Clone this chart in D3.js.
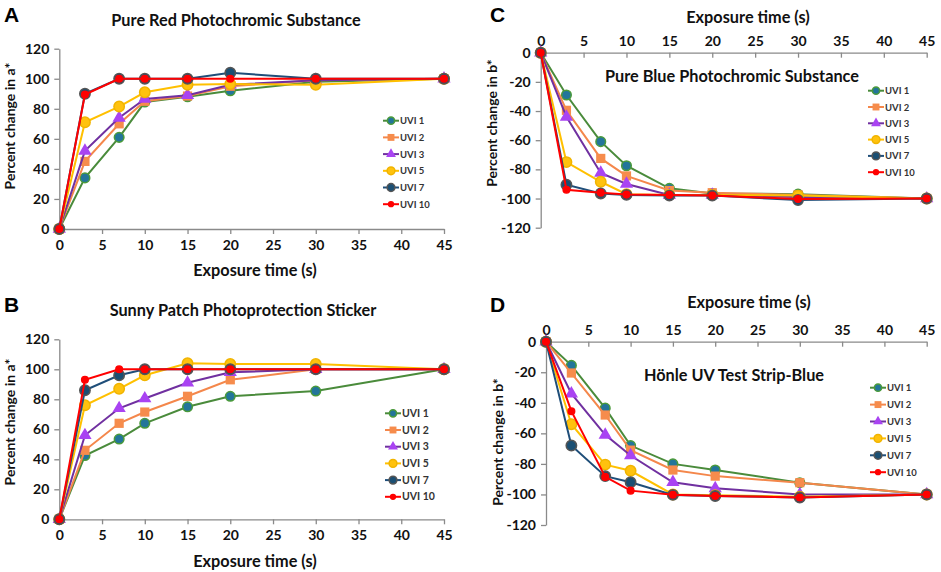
<!DOCTYPE html>
<html>
<head>
<meta charset="utf-8">
<script src="https://cdn.jsdelivr.net/npm/d3@7"></script>
<style>
  body { margin: 0; background: #fff; }
  svg text { font-family: Lato, "Open Sans", sans-serif; font-weight: bold; }
  .axis path, .axis line { stroke: #8a8a8a; stroke-width: 1.3; }
  .axis text { font-size: 14px; fill: #111; font-family: Lato, sans-serif; font-weight: bold; }
</style>
</head>
<body>
<svg id="chart" width="941" height="572"></svg>
<script>
// exposure times (s) and series names
const timeSec = [0, 3, 7, 10, 15, 20, 30, 45];
const seriesNames = ["UVI 1", "UVI 2", "UVI 3", "UVI 5", "UVI 7", "UVI 10"];
const xTicks = [0, 5, 10, 15, 20, 25, 30, 35, 40, 45];
const posTicks = [0, 20, 40, 60, 80, 100, 120];
const negTicks = [0, -20, -40, -60, -80, -100, -120];

// panel A: pure red photochromic substance, % change in a*
const pureRed = [
  [0, 34, 61, 84.5, 88, 92, 98, 100],
  [0, 45, 70, 85, 88.5, 95, 99, 100],
  [0, 52, 74, 86.5, 89, 96, 99, 100],
  [0, 71, 81.5, 91, 96, 96.5, 96, 100],
  [0, 90, 100, 100, 100, 104, 100, 100],
  [0, 89.5, 100, 100, 100, 100, 100, 100]
];
// panel B: sunny patch sticker, % change in a*
const sunnyPatch = [
  [0, 42.5, 53.5, 64, 75, 82, 85.5, 100],
  [0, 46, 64, 71.5, 82, 93, 100, 100],
  [0, 56, 74, 80.5, 91, 98, 100, 100],
  [0, 76, 87, 96, 104, 103.5, 103.5, 100],
  [0, 86, 96, 100, 100, 100, 100, 100],
  [0, 93, 100, 100, 100, 100, 100, 100]
];
// panel C: pure blue photochromic substance, % change in b*
const pureBlue = [
  [0, -29, -61, -77.5, -93, -96.5, -97, -100],
  [0, -39.5, -72.5, -84.5, -94.5, -96, -97.5, -100],
  [0, -44, -82.5, -90, -97.5, -97.5, -99, -100],
  [0, -75, -88.5, -97, -97.5, -97.5, -98, -100],
  [0, -90.5, -96.5, -97.5, -98, -98, -101, -100],
  [0, -94, -96, -97.3, -97.5, -98, -100.3, -100]
];
// panel D: Hoenle UV test strip blue, % change in b*
const hoenleStrip = [
  [0, -15.5, -43.5, -68, -80, -84, -92.3, -100],
  [0, -20.5, -48, -71, -84, -88, -92.3, -100],
  [0, -34, -61, -74.5, -92, -96, -100, -100],
  [0, -54, -80.5, -84.5, -100, -100.5, -101.5, -100],
  [0, -68, -88, -92, -100.3, -101, -102, -100],
  [0, -45.5, -88.5, -97.5, -100.2, -101, -102, -100]
];

// series styling
const styles = [
  {line: "#4a8b3b", fill: "#23759a", stroke: "#4a9a3a", shape: "circle", r: 4.8},
  {line: "#f4874b", fill: "#f68c4c", stroke: "#f68c4c", shape: "square", r: 4.6},
  {line: "#7030a0", fill: "#a943f2", stroke: "#a943f2", shape: "triangle", r: 5.4},
  {line: "#ffc000", fill: "#ffc20e", stroke: "#f1b400", shape: "circle", r: 5.2},
  {line: "#1f4e79", fill: "#1b4f73", stroke: "#555", shape: "circle", r: 5.2},
  {line: "#ff0000", fill: "#ff0000", stroke: "#ff0000", shape: "circle", r: 3.3}
];

const panels = [
  {data: pureRed, letter: "A", letterPos: [4, 22], title: "Pure Red Photochromic Substance", titlePos: [236, 26],
   x0: 59.3, x1: 444, yTop: 48.7, yBot: 229, neg: false, ylab: "Percent change in a*", ylabPos: [15, 126],
   xlabPos: [255, 276], legX: 383, legY: 120.7, legStep: 16.7, legFont: 9.5},
  {data: sunnyPatch, letter: "B", letterPos: [4, 312], title: "Sunny Patch Photoprotection Sticker", titlePos: [243, 316],
   x0: 59.3, x1: 444, yTop: 339.3, yBot: 519.3, neg: false, ylab: "Percent change in a*", ylabPos: [15, 422],
   xlabPos: [255, 567], legX: 385, legY: 413.3, legStep: 16.7, legFont: 10.5},
  {data: pureBlue, letter: "C", letterPos: [490, 22], title: "Pure Blue Photochromic Substance", titlePos: [732, 82],
   x0: 540.7, x1: 926.7, yTop: 52.7, yBot: 227.7, neg: true, ylab: "Percent change in b*", ylabPos: [497, 123],
   xlabPos: [748, 23], legX: 868, legY: 90.7, legStep: 16.3, legFont: 9.5},
  {data: hoenleStrip, letter: "D", letterPos: [490, 312], title: "Hönle UV Test Strip-Blue", titlePos: [734, 381],
   x0: 546, x1: 926.7, yTop: 341.7, yBot: 525, neg: true, ylab: "Percent change in b*", ylabPos: [503, 442],
   xlabPos: [749, 308], legX: 870, legY: 387.7, legStep: 16.9, legFont: 9.5}
];

const svg = d3.select("#chart");
const plainNum = d => String(d);

function drawMarker(g, st, cx, cy, r) {
  if (st.shape === "circle") {
    g.append("circle").attr("cx", cx).attr("cy", cy).attr("r", r)
      .attr("fill", st.fill).attr("stroke", st.stroke).attr("stroke-width", 1.5);
  } else if (st.shape === "square") {
    g.append("rect").attr("x", cx - r).attr("y", cy - r).attr("width", 2 * r).attr("height", 2 * r)
      .attr("fill", st.fill);
  } else {
    const sym = d3.symbol().type(d3.symbolTriangle).size(r * r * 2.6);
    g.append("path").attr("d", sym).attr("transform", "translate(" + cx + "," + cy + ")")
      .attr("fill", st.fill);
  }
}

panels.forEach(p => {
  const x = d3.scaleLinear().domain([0, 45]).range([p.x0, p.x1]);
  const y = d3.scaleLinear().domain(p.neg ? [-120, 0] : [0, 120]).range([p.yBot, p.yTop]);
  const g = svg.append("g");

  // axes
  if (p.neg) {
    g.append("g").attr("class", "axis").attr("transform", "translate(0," + y(0) + ")")
      .call(d3.axisTop(x).tickValues(xTicks).tickFormat(plainNum).tickSizeInner(-5).tickSizeOuter(0).tickPadding(7));
    g.append("g").attr("class", "axis").attr("transform", "translate(" + p.x0 + ",0)")
      .call(d3.axisLeft(y).tickValues(negTicks).tickFormat(plainNum).tickSizeInner(5).tickSizeOuter(0).tickPadding(5));
  } else {
    g.append("g").attr("class", "axis").attr("transform", "translate(0," + y(0) + ")")
      .call(d3.axisBottom(x).tickValues(xTicks).tickFormat(plainNum).tickSizeInner(5).tickSizeOuter(0).tickPadding(6));
    g.append("g").attr("class", "axis").attr("transform", "translate(" + p.x0 + ",0)")
      .call(d3.axisLeft(y).tickValues(posTicks).tickFormat(plainNum).tickSizeInner(5).tickSizeOuter(0).tickPadding(5));
  }

  // titles and labels
  g.append("text").attr("x", p.letterPos[0]).attr("y", p.letterPos[1])
    .style("font-family", "Arial, 'Liberation Sans', sans-serif").style("font-size", "21px").text(p.letter);
  g.append("text").attr("x", p.titlePos[0]).attr("y", p.titlePos[1]).attr("text-anchor", "middle")
    .style("font-size", "16.3px").attr("fill", "#111").text(p.title);
  g.append("text").attr("x", p.xlabPos[0]).attr("y", p.xlabPos[1]).attr("text-anchor", "middle")
    .style("font-size", "16.3px").attr("fill", "#111").text("Exposure time (s)");
  g.append("text").attr("transform", "translate(" + p.ylabPos[0] + "," + p.ylabPos[1] + ") rotate(-90)")
    .attr("text-anchor", "middle").style("font-size", "14px").attr("fill", "#111").text(p.ylab);

  // series
  const line = d3.line().x((d, i) => x(timeSec[i])).y(d => y(d));
  p.data.forEach((vals, si) => {
    const st = styles[si];
    const sg = g.append("g");
    sg.append("path").datum(vals).attr("d", line).attr("fill", "none")
      .attr("stroke", st.line).attr("stroke-width", 2);
    vals.forEach((v, i) => drawMarker(sg, st, x(timeSec[i]), y(v), st.r));
  });

  // legend
  seriesNames.forEach((name, si) => {
    const st = styles[si];
    const ly = p.legY + si * p.legStep;
    const lg = g.append("g");
    lg.append("line").attr("x1", p.legX).attr("x2", p.legX + 16).attr("y1", ly).attr("y2", ly)
      .attr("stroke", st.line).attr("stroke-width", 2);
    drawMarker(lg, st, p.legX + 8, ly, si === 5 ? 2.4 : st.r * 0.75);
    lg.append("text").attr("x", p.legX + 17).attr("y", ly + 3.5)
      .style("font-size", p.legFont + "px").attr("fill", "#333").text(name);
  });
});
</script>
</body>
</html>
